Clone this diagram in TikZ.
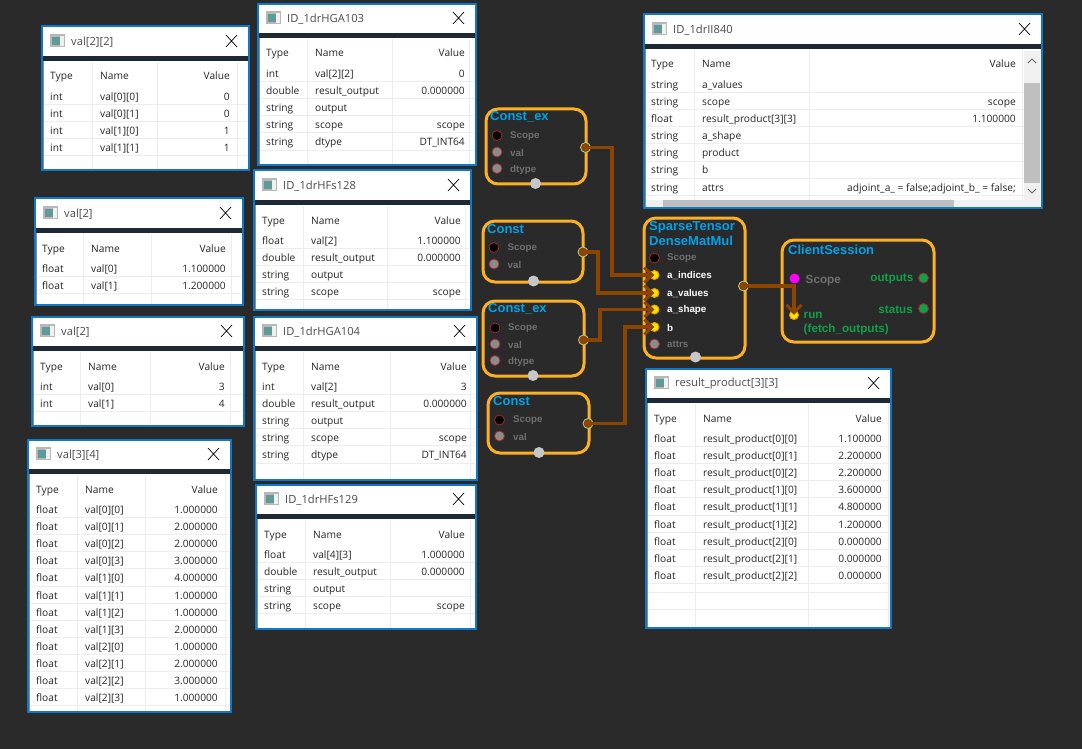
\documentclass[tikz,border=0pt]{standalone}
\usepackage{fontspec}
\setmainfont{Open Sans}
\newfontfamily\nodefont{Liberation Sans}
\usetikzlibrary{arrows.meta,calc}
\definecolor{bgc}{HTML}{2A2A2A}
\definecolor{barc}{HTML}{1F2933}
\definecolor{winb}{HTML}{0F78C8}
\definecolor{amber}{HTML}{FBB025}
\definecolor{titleb}{HTML}{00A2E8}
\definecolor{wire}{HTML}{8B4500}
\definecolor{offgray}{HTML}{707070}
\definecolor{portgray}{HTML}{8C8C8C}
\definecolor{portred}{HTML}{A02A2A}
\definecolor{greent}{HTML}{0FA04A}
\definecolor{iconc}{HTML}{5F9A98}
\definecolor{magport}{HTML}{FF00FF}
\definecolor{yelport}{HTML}{FFE600}
\definecolor{orgport}{HTML}{E89A00}
\definecolor{outring}{HTML}{B8D08C}
\tikzset{
  x=1pt,y=-1pt,
  cell/.style={inner sep=0pt,font=\fontsize{10.2}{12}\selectfont,text=black!85,anchor=base west},
  cellr/.style={cell,anchor=base east},
  wintitle/.style={inner sep=0pt,anchor=west,font=\fontsize{11.2}{13}\selectfont,text=black!70},
  opbox/.style={draw=amber,line width=3pt,rounded corners=12pt,fill=bgc},
  optitle/.style={inner sep=0pt,anchor=west,font=\nodefont\bfseries\fontsize{13}{14}\selectfont,text=titleb},
  portlab/.style={inner sep=0pt,anchor=west,font=\nodefont\bfseries\fontsize{9.8}{11}\selectfont,text=offgray},
  onlab/.style={portlab,text=white},
  greenlab/.style={inner sep=0pt,font=\nodefont\bfseries\fontsize{11.7}{13}\selectfont,text=greent},
  pscope/.style={circle,inner sep=0pt,minimum size=10pt,fill=black,draw=portred,line width=.8pt},
  poff/.style={circle,inner sep=0pt,minimum size=10pt,fill=portgray,draw=portred,line width=.8pt},
  pin/.style={circle,inner sep=0pt,minimum size=9pt,fill=yelport,draw=orgport,line width=1pt},
  pout/.style={circle,inner sep=0pt,minimum size=10pt,fill=wire,draw=outring,line width=.8pt},
  pbot/.style={circle,inner sep=0pt,minimum size=11pt,fill=black!22},
  pgreen/.style={circle,inner sep=0pt,minimum size=10pt,fill=greent,draw=portred,line width=.8pt},
  pmag/.style={circle,inner sep=0pt,minimum size=10pt,fill=magport},
  wirel/.style={draw=wire,line width=3.4pt},
  wirea/.style={wirel,-{Straight Barb[length=8pt,width=15pt,line width=3pt]}},
}
% #1 id #2 x0 #3 y0 #4 x1 #5 y1 #6 title y #7 type x #8 name x #9 value right
\def\win#1#2#3#4#5#6#7#8#9{\def\wid{#1}\def\xa{#2}\def\ya{#3}\def\xb{#4}\def\yb{#5}\def\yt{#6}\def\xt{#7}\def\xn{#8}\def\xv{#9}\winb}
% #1 sep2 x #2 sep3 x #3 title #4 rows
\def\winb#1#2#3#4{%
  \fill[white] (\xa,\ya) rectangle (\xb,\yb);
  \fill[barc] (\xa,\yt+15) rectangle (\xb,\yt+20);
  \draw[black!7,line width=.7pt] (\xn-8,\yt+21) -- (\xn-8,\yb-1) (#1,\yt+21) -- (#1,\yb-1) (#2,\yt+21) -- (#2,\yb-1);
  \draw[black!45,line width=1pt] (\xa+1,\yt+20) -- (\xa+1,\yb-1) (\xb-1,\yt+20) -- (\xb-1,\yb-1);
  \draw[winb,line width=1.2pt] (\xa,\ya) rectangle (\xb,\yb);
  \fill[black!28] (\xa+8,\yt-7) rectangle (\xa+23,\yt+6);
  \fill[black!6] (\xa+18,\yt-5) rectangle (\xa+22,\yt+5);
  \fill[iconc] (\xa+10,\yt-4) rectangle (\xa+18,\yt+4);
  \node[wintitle] (\wid-t) at (\xa+29,\yt+.8) {#3};
  \draw[black,line width=.7pt] (\xb-23,\yt-6) -- (\xb-12,\yt+6) (\xb-23,\yt+6) -- (\xb-12,\yt-6);
  \node[cell] (\wid-h1) at (\xt,\yt+39) {Type};
  \node[cell] (\wid-h2) at (\xn,\yt+39) {Name};
  \node[cellr] (\wid-h3) at (\xv,\yt+39) {Value};
  \foreach \ty/\nm/\vl [count=\i] in {#4}{
    \pgfmathsetmacro{\yy}{\yt+55+(\i-1)*17.1}
    \node[cell] (\wid-a\i) at (\xt,\yy+4.5) {\ty};
    \node[cell] (\wid-b\i) at (\xn,\yy+4.5) {\nm};
    \node[cellr] (\wid-c\i) at (\xv,\yy+4.5) {\vl};
    \draw[black!7,line width=.7pt] (\xa+2,\yy+8.5) -- (\xb-2,\yy+8.5);
  }
}
\begin{document}
\begin{tikzpicture}
\useasboundingbox (0,0) rectangle (1082,749);
\fill[bgc] (0,0) rectangle (1082,749);

\win{w1}{42}{26}{249}{170}{41}{50}{100}{230}{157}{237}{val[2][2]}{
 int/val[0][0]/0,int/val[0][1]/0,int/val[1][0]/1,int/val[1][1]/1}
\win{w2}{258}{4}{476}{165}{18}{266}{315}{465}{392}{469}{ID\_1drHGA103}{
 int/val[2][2]/0,double/result\_output/0.000000,string/output/{},string/scope/scope,string/dtype/DT\_INT64}
\win{w3}{254}{170}{471}{310}{185}{262}{311}{461}{387}{465}{ID\_1drHFs128}{
 float/val[2]/1.100000,double/result\_output/0.000000,string/output/{},string/scope/scope}
\win{w4}{254}{317}{477}{480}{331}{262}{311}{467}{390}{470}{ID\_1drHGA104}{
 int/val[2]/3,double/result\_output/0.000000,string/output/{},string/scope/scope,string/dtype/DT\_INT64}
\win{w5}{256}{485}{476}{629}{499}{264}{313}{465}{390}{470}{ID\_1drHFs129}{
 float/val[4][3]/1.000000,double/result\_output/0.000000,string/output/{},string/scope/scope}
\win{w6}{35}{198}{243}{305}{213}{42}{91}{226}{151}{231}{val[2]}{
 float/val[0]/1.100000,float/val[1]/1.200000}
\win{w7}{32}{317}{244}{426}{331}{40}{88}{225}{150}{230}{val[2]}{
 int/val[0]/3,int/val[1]/4}
\win{w8}{28}{440}{231}{712}{454}{36}{85}{218}{145}{225}{val[3][4]}{
 float/val[0][0]/1.000000,float/val[0][1]/2.000000,float/val[0][2]/2.000000,float/val[0][3]/3.000000,
 float/val[1][0]/4.000000,float/val[1][1]/1.000000,float/val[1][2]/1.000000,float/val[1][3]/2.000000,
 float/val[2][0]/1.000000,float/val[2][1]/2.000000,float/val[2][2]/3.000000,float/val[2][3]/1.000000}
\win{w9}{644}{14}{1042}{208}{29}{651}{702}{1016}{809}{1022}{ID\_1drII840}{
 string/a\_values/{},string/scope/scope,float/result\_product[3][3]/1.100000,string/a\_shape/{},string/product/{},string/b/{},
 string/attrs/adjoint\_a\_ = false;adjoint\_b\_ = false;}
\win{w10}{646}{369}{891}{628}{383}{654}{703}{882}{808}{888}{result\_product[3][3]}{
 float/result\_product[0][0]/1.100000,float/result\_product[0][1]/2.200000,float/result\_product[0][2]/2.200000,
 float/result\_product[1][0]/3.600000,float/result\_product[1][1]/4.800000,float/result\_product[1][2]/1.200000,
 float/result\_product[2][0]/0.000000,float/result\_product[2][1]/0.000000,float/result\_product[2][2]/0.000000}
% extra blank row lines of the result table
\draw[black!7,line width=.7pt] (648,592) -- (889,592) (648,609) -- (889,609);
% scrollbars of ID_1drII840
\fill[black!6] (1024,51) rectangle (1040,207);
\fill[black!6] (646,200) rectangle (1040,207);
\fill[black!25] (1024,83) rectangle (1040,183);
\fill[black!25] (663,200) rectangle (954,207);
\draw[black!60,line width=1pt] (1028,63) -- (1032,59) -- (1036,63) (1028,189) -- (1032,193) -- (1036,189);

% operator boxes
\draw[opbox] (486,109) rectangle (586,184);
\draw[opbox] (483,221) rectangle (583,282);
\draw[opbox] (483,301) rectangle (584,376);
\draw[opbox] (488,393) rectangle (589,453);
\draw[opbox] (644,218) rectangle (745,358);
\draw[opbox] (782,240) rectangle (934,342);

\node[optitle] (t1) at (490,117) {Const\_ex};
\node[optitle] (t2) at (487,229) {Const};
\node[optitle] (t3) at (488,309) {Const\_ex};
\node[optitle] (t4) at (493,401) {Const};
\node[optitle] (t5a) at (649,227.5) {SparseTensor};
\node[optitle] (t5b) at (649,241) {DenseMatMul};
\node[optitle] (t6) at (788,249.5) {ClientSession};

% Const_ex 1
\node[pscope] (a1) at (497,135.5) {}; \node[portlab] (la1) at (510,136.5) {Scope};
\node[poff] (a2) at (497,152) {}; \node[portlab] (la2) at (510,152.5) {val};
\node[poff] (a3) at (497,168.5) {}; \node[portlab] (la3) at (510,169.5) {dtype};
\node[pout] (aout) at (585.5,147.5) {};
\node[pbot] (abot) at (535.5,183.5) {};
% Const 1
\node[pscope] (b1) at (494,247.5) {}; \node[portlab] (lb1) at (507.5,248.5) {Scope};
\node[poff] (b2) at (494,264) {}; \node[portlab] (lb2) at (507.5,264.5) {val};
\node[pout] (bout) at (583,252) {};
\node[pbot] (bbot) at (533.5,281) {};
% Const_ex 2
\node[pscope] (c1) at (495,328) {}; \node[portlab] (lc1) at (508,328.5) {Scope};
\node[poff] (c2) at (495,344) {}; \node[portlab] (lc2) at (508,344.5) {val};
\node[poff] (c3) at (495,360.5) {}; \node[portlab] (lc3) at (508,361.5) {dtype};
\node[pout] (cout) at (583.5,340) {};
\node[pbot] (cbot) at (533,375.5) {};
% Const 2
\node[pscope] (d1) at (499.5,420) {}; \node[portlab] (ld1) at (513,420.5) {Scope};
\node[poff] (d2) at (499.5,436) {}; \node[portlab] (ld2) at (513,436.5) {val};
\node[pout] (dout) at (588,423.5) {};
\node[pbot] (dbot) at (539,452.5) {};
% SparseTensorDenseMatMul
\node[pscope] (e1) at (654.5,258) {}; \node[portlab] (le1) at (667,258.5) {Scope};
\node[pin] (e2) at (654.5,275) {}; \node[onlab] (le2) at (667,275.5) {a\_indices};
\node[pin] (e3) at (654.5,293) {}; \node[onlab] (le3) at (667,293.5) {a\_values};
\node[pin] (e4) at (654.5,309.5) {}; \node[onlab] (le4) at (667,310) {a\_shape};
\node[pin] (e5) at (654.5,327) {}; \node[onlab] (le5) at (667,328) {b};
\node[poff] (e6) at (654.5,344) {}; \node[portlab] (le6) at (667,344.5) {attrs};
\node[pout] (eout) at (743.5,286) {};
\node[pbot] (ebot) at (695.5,357) {};
% ClientSession
\node[pmag] (f1) at (794.5,278.5) {};
\node[inner sep=0pt,anchor=west,font=\nodefont\bfseries\fontsize{11.7}{13}\selectfont,text=offgray] (lf1) at (805.5,281) {Scope};
\node[pin] (f2) at (794,315) {};
\node[greenlab,anchor=west] (lf2) at (803.5,315) {run};
\node[greenlab,anchor=west] (lf3) at (803.5,329.5) {(fetch\_outputs)};
\node[pgreen] (f3) at (923.5,278) {};
\node[greenlab,anchor=east] (lf4) at (913.5,278.5) {outputs};
\node[pgreen] (f4) at (923.5,308.5) {};
\node[greenlab,anchor=east] (lf5) at (913,309.5) {status};

% connectors
\draw[wirea] (aout.center) -- (612,147.5) |- (e2.center);
\draw[wirea] (bout.center) -- (598,252) |- (e3.center);
\draw[wirea] (cout.center) -- (600,340) |- (e4.center);
\draw[wirea] (dout.center) -- (625,423.5) |- (e5.center);
\draw[wirea] (eout.center) -| (f2.center);
\fill[wire] (aout) circle (4pt) (bout) circle (4pt) (cout) circle (4pt) (dout) circle (4pt) (eout) circle (4pt);
\end{tikzpicture}
\end{document}
